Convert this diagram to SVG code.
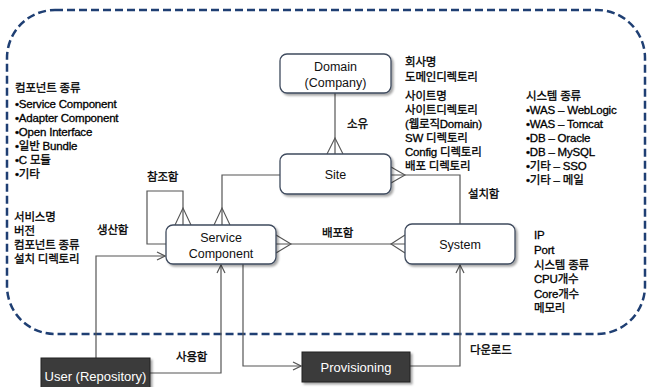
<svg xmlns="http://www.w3.org/2000/svg" width="649" height="387" viewBox="0 0 649 387">
<defs>
<filter id="sh" x="-10%" y="-10%" width="130%" height="140%">
<feDropShadow dx="2" dy="2" stdDeviation="1.3" flood-color="#000" flood-opacity="0.35"/>
</filter>
<marker id="arr" markerWidth="10" markerHeight="10" refX="9" refY="5" orient="auto" markerUnits="userSpaceOnUse">
<path d="M1,1 L9,5 L1,9" fill="none" stroke="#555" stroke-width="1.2"/>
</marker>
<style>
.node{fill:#fff;stroke:#3f4b5e;stroke-width:1.3}
.dark{fill:#3a3a3a;stroke:#222;stroke-width:1}
.nt{font-family:"Liberation Sans","Noto Sans CJK KR",sans-serif;font-size:12.5px;fill:#111;text-anchor:middle}
.wt{font-family:"Liberation Sans","Noto Sans CJK KR",sans-serif;font-size:13px;fill:#fff;text-anchor:middle}
.t{font-family:"Liberation Sans","Noto Sans CJK KR",sans-serif;font-size:11.5px;fill:#000;stroke:#000;stroke-width:0.3px;letter-spacing:-0.2px}
.ln{fill:none;stroke:#555;stroke-width:1.2}
.cf{fill:none;stroke:#555;stroke-width:1.1}
.bd{fill:none;stroke:#1f3f73;stroke-width:2.5;stroke-dasharray:8,4}
</style>
</defs>
<rect class="bd" x="7" y="10" width="638" height="324" rx="48" ry="48"/>

<g id="connectors">
<path class="ln" d="M335,93 V154"/>
<path class="cf" d="M327,154 L335,138 L343,154"/>
<path class="ln" d="M280,175 H222 V225"/>
<path class="cf" d="M214,225 L222,208 L230,225"/>
<path class="ln" d="M166,244 H147 V191 H183 V225"/>
<path class="cf" d="M175,225 L183,208 L191,225"/>
<path class="ln" d="M276,244 H405"/>
<path class="cf" d="M276,235 L291,244 L276,253"/>
<path class="cf" d="M405,235 L391,244 L405,253"/>
<path class="ln" d="M391,175 H460 V224"/>
<path class="cf" d="M391,167 L405,175 L391,183"/>
<path class="ln" d="M96,358 V256 H165" marker-end="url(#arr)"/>
<path class="ln" d="M150,373 H221 V265" marker-end="url(#arr)"/>
<path class="ln" d="M243,264 V366 H301" marker-end="url(#arr)"/>
<path class="ln" d="M410,366 H460 V265" marker-end="url(#arr)"/>
</g>

<g id="domain">
<rect class="node" x="280" y="54" width="111" height="39" rx="7" filter="url(#sh)"/>
<text class="nt" x="335.5" y="71">Domain</text>
<text class="nt" x="335.5" y="87">(Company)</text>
</g>
<g id="site">
<rect class="node" x="280" y="154" width="111" height="40" rx="7" filter="url(#sh)"/>
<text class="nt" x="335.5" y="179">Site</text>
</g>
<g id="service-component">
<rect class="node" x="166" y="225" width="110" height="39" rx="7" filter="url(#sh)"/>
<text class="nt" x="221" y="242">Service</text>
<text class="nt" x="221" y="258">Component</text>
</g>
<g id="system">
<rect class="node" x="405" y="224" width="110" height="40" rx="7" filter="url(#sh)"/>
<text class="nt" x="460" y="249">System</text>
</g>
<g id="user">
<rect class="dark" x="41" y="358" width="109" height="32" filter="url(#sh)"/>
<text class="wt" x="95.5" y="381">User (Repository)</text>
</g>
<g id="provisioning">
<rect class="dark" x="302" y="352" width="108" height="30" filter="url(#sh)"/>
<text class="wt" x="356" y="372">Provisioning</text>
</g>

<g id="labels">
<text class="t" x="347" y="128">소유</text>
<text class="t" x="147" y="181">참조함</text>
<text class="t" x="322" y="237">배포함</text>
<text class="t" x="468" y="198">설치함</text>
<text class="t" x="97" y="234">생산함</text>
<text class="t" x="176" y="361">사용함</text>
<text class="t" x="470" y="354">다운로드</text>
</g>

<g id="notes">
<text class="t" x="15" y="92">컴포넌트 종류</text>
<text class="t" x="15" y="108">•Service Component</text>
<text class="t" x="15" y="122">•Adapter Component</text>
<text class="t" x="15" y="136">•Open Interface</text>
<text class="t" x="15" y="150">•일반 Bundle</text>
<text class="t" x="15" y="164">•C 모듈</text>
<text class="t" x="15" y="178">•기타</text>

<text class="t" x="14" y="221">서비스명</text>
<text class="t" x="14" y="235">버전</text>
<text class="t" x="14" y="249">컴포넌트 종류</text>
<text class="t" x="14" y="263">설치 디렉토리</text>

<text class="t" x="405" y="66">회사명</text>
<text class="t" x="405" y="81">도메인디렉토리</text>
<text class="t" x="405" y="100">사이트명</text>
<text class="t" x="405" y="114">사이트디렉토리</text>
<text class="t" x="405" y="128">(웹로직Domain)</text>
<text class="t" x="405" y="142">SW 디렉토리</text>
<text class="t" x="405" y="156">Config 디렉토리</text>
<text class="t" x="405" y="170">배포 디렉토리</text>

<text class="t" x="526" y="100">시스템 종류</text>
<text class="t" x="526" y="114">•WAS – WebLogic</text>
<text class="t" x="526" y="128">•WAS – Tomcat</text>
<text class="t" x="526" y="142">•DB – Oracle</text>
<text class="t" x="526" y="156">•DB – MySQL</text>
<text class="t" x="526" y="170">•기타 – SSO</text>
<text class="t" x="526" y="184">•기타 – 메일</text>

<text class="t" x="534" y="239">IP</text>
<text class="t" x="534" y="254">Port</text>
<text class="t" x="534" y="269">시스템 종류</text>
<text class="t" x="534" y="283">CPU개수</text>
<text class="t" x="534" y="298">Core개수</text>
<text class="t" x="534" y="312">메모리</text>
</g>
</svg>
